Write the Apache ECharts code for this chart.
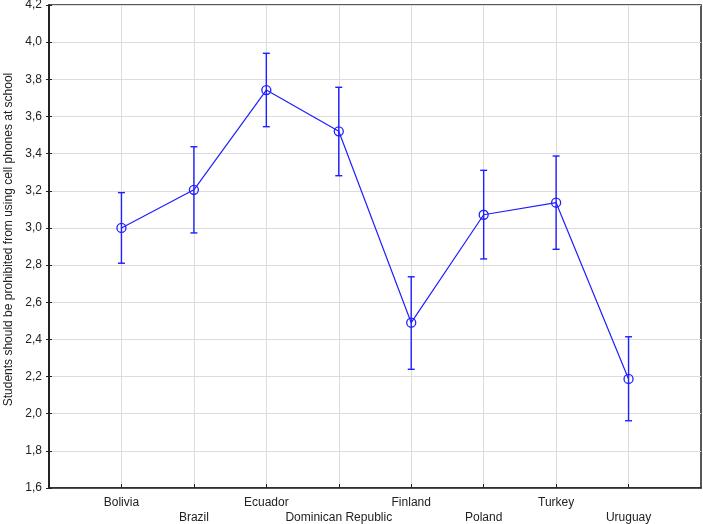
<!DOCTYPE html>
<html>
<head>
<meta charset="utf-8">
<script src="https://cdn.jsdelivr.net/npm/echarts@6/dist/echarts.min.js"></script>
<style>
html,body{margin:0;padding:0;background:#fff;}
#chart{width:703px;height:524px;}
</style>
</head>
<body>
<div id="chart"></div>
<script>
var categories = ['Bolivia','Brazil','Ecuador','Dominican Republic','Finland','Poland','Turkey','Uruguay'];
var means = [3.00, 3.205, 3.742, 3.520, 2.490, 3.071, 3.136, 2.187];
var lower = [2.81, 2.973, 3.545, 3.281, 2.239, 2.833, 2.885, 1.962];
var upper = [3.19, 3.437, 3.940, 3.757, 2.737, 3.310, 3.387, 2.414];
var yTicks = [1.6,1.8,2.0,2.2,2.4,2.6,2.8,3.0,3.2,3.4,3.6,3.8,4.0,4.2];
var yTitle = 'Students should be prohibited from using cell phones at school';

var blue = '#1f1fff';
var font = 'Arial, "Liberation Sans", sans-serif';
var catPos = categories.map(function(c,i){return i+1;});

var chart = echarts.init(document.getElementById('chart'));
function fmtY(v){ return (Math.round(v*10)/10).toFixed(1).replace('.', ','); }
function catLabel(parity){
  return function(v){
    var i = Math.round(v) - 1;
    if (i < 0 || i >= categories.length || Math.abs(v - Math.round(v)) > 1e-6) return '';
    return (i % 2 === parity) ? categories[i] : '';
  };
}
var option = {
  animation: false,
  backgroundColor: '#fff',
  grid: {left: 49, right: 2, top: 5, bottom: 36, containLabel: false, outerBoundsMode: 'none',
         show: true, borderColor: '#222', borderWidth: 1.5, backgroundColor: 'transparent'},
  xAxis: [{
    type: 'value', min: 0, max: 9, interval: 1,
    axisLine: {show: true, lineStyle: {color: '#222', width: 1.5}},
    axisTick: {show: true, inside: true, length: 4, lineStyle: {color: '#222'}, customValues: catPos},
    axisLabel: {show: true, margin: 9, color: '#222', fontSize: 12, fontFamily: font, formatter: catLabel(0), customValues: catPos},
    splitLine: {show: true, lineStyle: {color: '#dcdcdc', width: 1}}
  },{
    type: 'value', min: 0, max: 9, interval: 1, position: 'bottom',
    axisLine: {show: false}, axisTick: {show: false},
    axisLabel: {show: true, margin: 24, color: '#222', fontSize: 12, fontFamily: font, formatter: catLabel(1), customValues: catPos},
    splitLine: {show: false}
  }],
  yAxis: [{
    type: 'value', min: yTicks[0], max: yTicks[yTicks.length-1], interval: 0.2,
    name: yTitle, nameLocation: 'middle', nameGap: 34, nameRotate: 90,
    nameTextStyle: {color: '#222', fontSize: 12, fontFamily: font, padding: [0, 0, 0, 14]},
    axisLine: {show: true, lineStyle: {color: '#222', width: 1.5}},
    axisTick: {show: true, inside: true, length: 3, lineStyle: {color: '#222'}},
    axisLabel: {margin: 7, color: '#222', fontSize: 12, fontFamily: font, formatter: fmtY},
    splitLine: {show: true, lineStyle: {color: '#dcdcdc', width: 1}}
  },{
    type: 'value', min: yTicks[0], max: yTicks[yTicks.length-1], interval: 0.2, position: 'right',
    axisLine: {show: true, lineStyle: {color: '#222', width: 1.5}},
    axisTick: {show: true, inside: true, length: 3, lineStyle: {color: '#222'}},
    axisLabel: {show: false}, splitLine: {show: false}
  }],
  series: [{
    type: 'custom',
    xAxisIndex: 0, yAxisIndex: 0,
    data: categories.map(function(c,i){ return [i+1, lower[i], upper[i]]; }),
    renderItem: function(params, api){
      var x = api.value(0);
      var lo = api.coord([x, api.value(1)]);
      var hi = api.coord([x, api.value(2)]);
      var w = 3.5;
      var st = {stroke: blue, lineWidth: 1.4};
      return {type: 'group', children: [
        {type: 'line', shape: {x1: hi[0], y1: hi[1], x2: lo[0], y2: lo[1]}, style: st},
        {type: 'line', shape: {x1: hi[0]-w, y1: hi[1], x2: hi[0]+w, y2: hi[1]}, style: st},
        {type: 'line', shape: {x1: lo[0]-w, y1: lo[1], x2: lo[0]+w, y2: lo[1]}, style: st}
      ]};
    },
    z: 3
  },{
    type: 'line',
    xAxisIndex: 0, yAxisIndex: 0,
    data: categories.map(function(c,i){ return [i+1, means[i]]; }),
    symbol: 'circle', symbolSize: 9,
    lineStyle: {color: blue, width: 1.2},
    itemStyle: {color: 'rgba(0,0,0,0)', borderColor: blue, borderWidth: 1.3},
    z: 4
  }]
};
chart.setOption(option);
</script>
</body>
</html>
